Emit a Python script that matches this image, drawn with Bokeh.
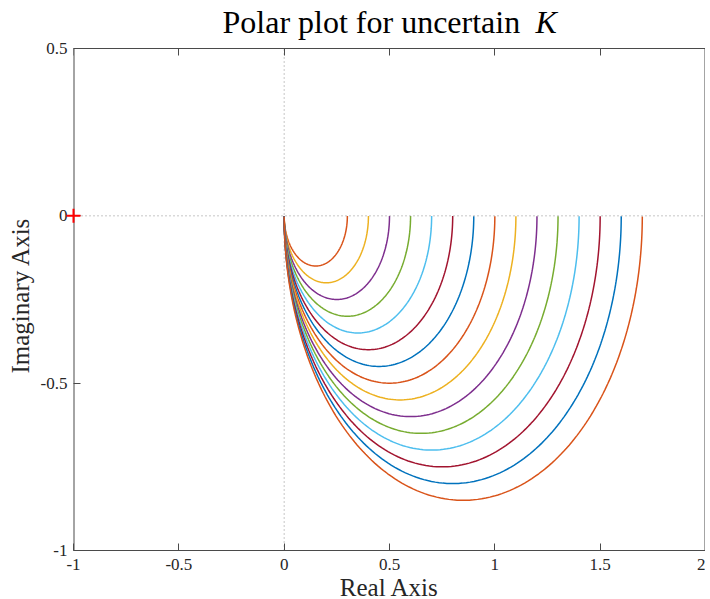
import numpy as np
from bokeh.plotting import figure
from bokeh.models import Range1d, LinearAxis, Span, Label, FixedTicker, Title
from bokeh.embed import file_html
from bokeh.resources import INLINE

K_values = [0.3, 0.4, 0.5, 0.6, 0.7, 0.8, 0.9, 1.0, 1.1, 1.2, 1.3, 1.4, 1.5, 1.6, 1.7]
curve_colors = ["#D95319", "#EDB120", "#7E2F8E", "#77AC30", "#4DBEEE", "#A2142F", "#0072BD",
                "#D95319", "#EDB120", "#7E2F8E", "#77AC30", "#4DBEEE", "#A2142F", "#0072BD",
                "#D95319"]
x_ticks = [-1, -0.5, 0, 0.5, 1, 1.5, 2]
x_tick_labels = ["-1", "-0.5", "0", "0.5", "1", "1.5", "2"]
y_ticks = [-1, -0.5, 0, 0.5]
y_tick_labels = ["-1", "-0.5", "0", "0.5"]
critical_point = (-1.0, 0.0)
X_MIN, X_MAX = -1.0, 2.0
Y_MIN, Y_MAX = -1.0, 0.5

# frequency grid for the Nyquist response G(jw) = K / (1 + jw)
omega = np.logspace(-3, 3, 600)

SERIF = "Liberation Serif"
AX = "#4a4a4a"
TXT = "#262626"

FRAME_W = 632
BOX_H = 502          # pixel height of the axes box
TITLE_PX = 40        # room kept above the box, inside the frame, for the title
FRAME_H = BOX_H + TITLE_PX
Y_TOP = Y_MAX + (Y_MAX - Y_MIN) * TITLE_PX / BOX_H

p = figure(frame_width=FRAME_W, frame_height=FRAME_H,
           x_range=Range1d(X_MIN, X_MAX), y_range=Range1d(Y_MIN, Y_TOP),
           output_backend="svg", toolbar_location=None,
           min_border_left=73, min_border_right=0, min_border_top=8, min_border_bottom=49,
           background_fill_color="white", border_fill_color="white")
p.grid.visible = False
p.outline_line_color = None

for ax, ticks, labels in ((p.xaxis[0], x_ticks, x_tick_labels), (p.yaxis[0], y_ticks, y_tick_labels)):
    ax.ticker = FixedTicker(ticks=ticks)
    ax.major_label_overrides = {t: l for t, l in zip(ticks, labels)}
    ax.major_tick_in = 7
    ax.major_tick_out = 0
    ax.minor_tick_line_color = None
    ax.axis_line_color = AX
    ax.major_tick_line_color = AX
    ax.major_label_text_font = SERIF
    ax.major_label_text_font_size = "17px"
    ax.major_label_text_color = TXT
    ax.axis_label_text_font = SERIF
    ax.axis_label_text_font_style = "normal"
    ax.axis_label_text_font_size = "25px"
    ax.axis_label_text_color = TXT

p.xaxis.axis_label = "Real Axis"
p.xaxis.major_label_standoff = 8
p.xaxis.axis_label_standoff = 1
p.yaxis.major_label_standoff = 6
p.yaxis.axis_line_color = None

top = LinearAxis(ticker=FixedTicker(ticks=x_ticks), fixed_location=Y_MAX,
                 major_tick_in=7, major_tick_out=0,
                 minor_tick_line_color=None, axis_line_color=None, major_tick_line_color=AX,
                 major_label_overrides={t: "" for t in x_ticks}, major_label_standoff=0)
p.add_layout(top, "above")

p.add_layout(Title(text="Imaginary Axis", align="left", offset=177, standoff=7,
                   text_font=SERIF, text_font_size="25px", text_font_style="normal",
                   text_color=TXT), "left")

# axes box: left and right edges sit on the frame border, top edge inside
p.segment(x0=[X_MIN, X_MAX], y0=[Y_MIN, Y_MIN], x1=[X_MIN, X_MAX], y1=[Y_MAX, Y_MAX],
          line_color=AX, line_width=2)
p.segment(x0=[X_MIN], y0=[Y_MAX], x1=[X_MAX], y1=[Y_MAX], line_color=AX, line_width=1)

# dotted reference lines through origin
p.add_layout(Span(location=0, dimension="width", line_color="#8c8c8c", line_dash="1 3", line_width=1))
p.segment(x0=[0], y0=[Y_MIN], x1=[0], y1=[Y_MAX], line_color="#8c8c8c", line_dash="1 3", line_width=1)

for K, c in zip(K_values, curve_colors):
    G = K / (1 + 1j * omega)
    p.line(G.real, G.imag, line_color=c, line_width=1.5)

p.scatter([critical_point[0]], [critical_point[1]], marker="cross", size=14,
          line_color="red", line_width=2, level="overlay")

p.add_layout(Label(x=149, y=FRAME_H - 13, x_units="screen", y_units="screen",
                   text="Polar plot for uncertain", text_font=SERIF, text_font_size="32px",
                   text_align="left", text_baseline="alphabetic", text_color="black"))
p.add_layout(Label(x=462, y=FRAME_H - 13, x_units="screen", y_units="screen",
                   text="K", text_font=SERIF, text_font_size="32px", text_font_style="italic",
                   text_align="left", text_baseline="alphabetic", text_color="black"))

open("out.html", "w").write(file_html(p, INLINE))
